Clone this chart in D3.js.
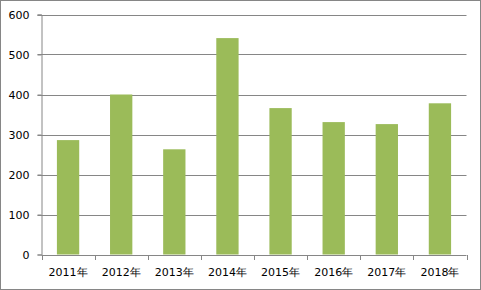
<!doctype html>
<html>
<head>
<meta charset="utf-8">
<script src="https://d3js.org/d3.v7.min.js"></script>
<style>
  body { margin: 0; background: #fff; }
  text { font-family: "DejaVu Sans", sans-serif; font-size: 11px; fill: #000; }
</style>
</head>
<body>
<svg id="chart" width="481" height="290"></svg>
<script>
// data
const years  = ["2011年", "2012年", "2013年", "2014年", "2015年", "2016年", "2017年", "2018年"];
const values = [286, 400, 263, 541, 366, 331, 326, 378];
const yTicks = [0, 100, 200, 300, 400, 500, 600];

const svg = d3.select("#chart");
const W = 481, H = 290;
const m = {left: 41.5, right: 14.5, top: 14.5, bottom: 35.5};

// outer frame
svg.append("rect")
    .attr("x", 0.5).attr("y", 0.5)
    .attr("width", W - 1).attr("height", H - 1)
    .attr("fill", "#fff").attr("stroke", "#868686");

let x = d3.scaleBand().domain(years).range([m.left, W - m.right]).paddingInner(0.58).paddingOuter(0.29);
let xb = d3.scaleBand().domain(years).range([m.left, W - m.right]);
let y = d3.scaleLinear().domain([0, 600]).range([H - m.bottom, m.top]);

// gridlines
svg.append("g").selectAll("line").data(yTicks.filter(d => d > 0)).join("line")
    .attr("x1", m.left - 4).attr("x2", W - m.right)
    .attr("y1", d => Math.round(y(d)) + 0.5).attr("y2", d => Math.round(y(d)) + 0.5)
    .attr("stroke", "#868686");

// bars
svg.append("g").selectAll("rect").data(values).join("rect")
    .attr("x", (d, i) => x(years[i]))
    .attr("width", x.bandwidth())
    .attr("y", d => y(d))
    .attr("height", d => y(0) - y(d))
    .attr("fill", "#9BBB59");

// y axis
let yAxis = svg.append("g").attr("transform", `translate(${m.left},0)`)
    .call(d3.axisLeft(y).tickValues(yTicks).tickSize(4).tickPadding(8));
yAxis.select(".domain").attr("stroke", "#868686");
yAxis.selectAll(".tick line").attr("stroke", "#868686");
yAxis.selectAll("text").attr("font-family", null).attr("font-size", null).attr("fill", "#000");

// x axis
let xAxis = svg.append("g").attr("transform", `translate(0,${Math.round(y(0)) + 0.5})`)
    .call(d3.axisBottom(xb).tickSize(0).tickPadding(13));
xAxis.select(".domain").attr("stroke", "#868686").attr("d", `M${m.left},0H${W - m.right}`);
xAxis.selectAll("text").attr("font-family", null).attr("font-size", null).attr("fill", "#000");
// ticks between categories
svg.append("g").selectAll("line").data(d3.range(years.length + 1)).join("line")
    .attr("x1", i => Math.round(m.left + i * xb.step()) + 0.5)
    .attr("x2", i => Math.round(m.left + i * xb.step()) + 0.5)
    .attr("y1", Math.round(y(0))).attr("y2", Math.round(y(0)) + 5)
    .attr("stroke", "#868686");
</script>
</body>
</html>
